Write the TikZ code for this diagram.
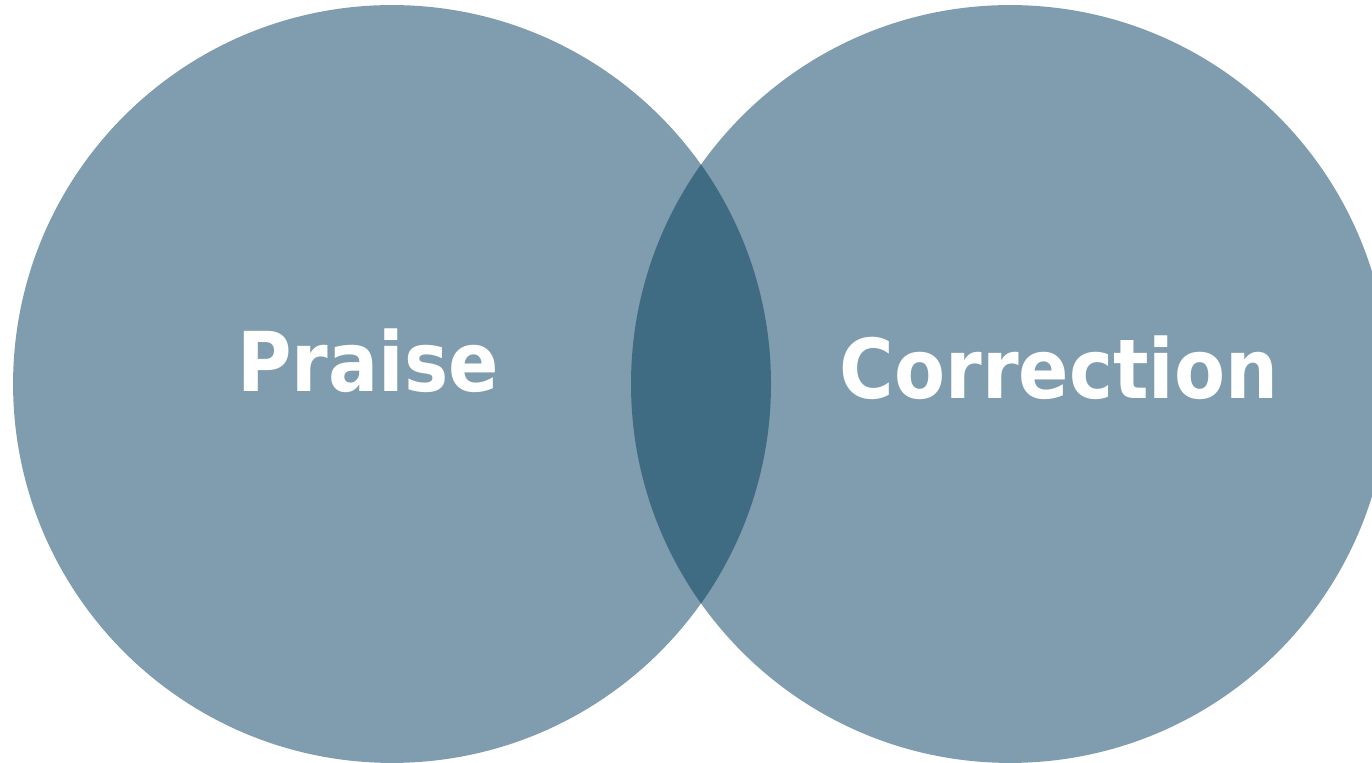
\documentclass[tikz,border=0pt]{standalone}
\usepackage{fontspec}
\newfontfamily\vennfont{DejaVu Sans Condensed}
\usetikzlibrary{positioning}
\definecolor{vennlight}{HTML}{7F9DAE}
\definecolor{venndark}{HTML}{406C83}

\begin{document}
\begin{tikzpicture}
        [x=0.02cm,y=0.02cm,
         set/.style={circle,fill=vennlight,inner sep=0pt,minimum size=15.16cm},
         word/.style={text=white,anchor=base,font=\vennfont\bfseries\fontsize{47}{47}\selectfont}]
        \useasboundingbox (0,0) rectangle (1372,763);
        \node[set] (left) at (392,379) {};
        \node[set] (right) at (1010,379) {};

        % overlap of the two sets
        \begin{scope}
            \clip (left.center) circle[radius=379];
            \fill[venndark] (right.center) circle[radius=379];
        \end{scope}

        \node[word] (praise) at (368,371) {Praise};
        \node[word] (correction) at (1059,364) {Correction};
      \end{tikzpicture}
\end{document}
